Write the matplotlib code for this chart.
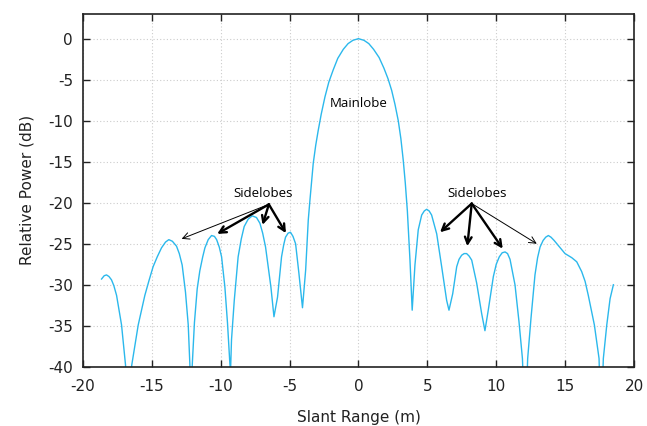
import numpy as np
import matplotlib.pyplot as plt

plt.rcParams['axes.unicode_minus'] = False

# point spread response along slant range (m) and relative power (dB)
slant_range = [-18.64, -18.45, -18.28, -18.1, -17.92, -17.75, -17.55, -17.19, -16.9, -16.71,
               -16.45, -15.98, -15.5, -15.2, -14.9, -14.6, -14.29, -14.0, -13.76, -13.5,
               -13.2, -13.0, -12.79, -12.55, -12.35, -12.23, -12.16, -12.06, -11.9, -11.7,
               -11.51, -11.3, -11.14, -10.9, -10.66, -10.45, -10.29, -10.1, -9.93, -9.69,
               -9.5, -9.33, -9.28, -9.21, -9.01, -8.73, -8.5, -8.29, -8.0, -7.71, -7.4,
               -7.15, -6.95, -6.74, -6.35, -6.13, -5.87, -5.58, -5.42, -5.29, -5.1, -4.93,
               -4.75, -4.56, -4.32, -4.06, -3.83, -3.64, -3.52, -3.4, -3.28, -3.1, -2.92,
               -2.7, -2.43, -2.15, -1.83, -1.5, -1.1, -0.75, -0.4, 0.0, 0.4, 0.75, 1.1,
               1.5, 1.85, 2.15, 2.41, 2.65, 2.89, 3.08, 3.25, 3.4, 3.55, 3.74, 3.9, 4.1,
               4.34, 4.59, 4.78, 4.95, 5.13, 5.31, 5.68, 6.04, 6.4, 6.57, 6.84, 7.13,
               7.3, 7.49, 7.67, 7.85, 8.03, 8.22, 8.58, 8.94, 9.18, 9.42, 9.79, 10.0,
               10.22, 10.43, 10.64, 10.82, 11.0, 11.36, 11.65, 11.9, 12.1, 12.28, 12.52,
               12.81, 13.0, 13.18, 13.4, 13.59, 13.78, 13.97, 14.2, 14.5, 14.99, 15.48,
               15.84, 16.2, 16.45, 16.68, 17.12, 17.46, 17.6, 17.77, 18.02, 18.26, 18.5]
power_db = [-29.3, -28.9, -28.8, -29.0, -29.4, -30.1, -31.3, -34.9, -39.8, -48.0,
            -39.8, -34.9, -31.3, -29.5, -27.8, -26.6, -25.5, -24.8, -24.5, -24.7,
            -25.3, -26.2, -27.6, -30.9, -34.9, -39.8, -48.0, -39.8, -34.6, -30.5,
            -28.3, -26.6, -25.5, -24.5, -24.0, -24.1, -24.5, -25.4, -26.6, -30.3,
            -34.7, -39.6, -40.5, -36.7, -31.9, -26.6, -24.4, -22.9, -22.0, -21.6, -21.8,
            -22.5, -23.7, -25.4, -30.3, -33.9, -31.5, -26.6, -25.1, -24.2, -23.7, -23.6,
            -24.1, -25.0, -28.6, -32.8, -28.2, -22.1, -19.7, -17.5, -15.2, -13.0, -11.2,
            -9.2, -7.1, -5.3, -3.8, -2.4, -1.3, -0.6, -0.2, 0.0, -0.2, -0.6, -1.3,
            -2.3, -3.6, -4.9, -6.3, -8.0, -10.0, -12.2, -14.8, -17.6, -21.0, -27.0, -33.1, -27.6,
            -23.3, -21.5, -21.0, -20.8, -21.0, -21.5, -23.8, -27.8, -31.9, -33.1, -31.1, -27.8,
            -26.9, -26.4, -26.2, -26.2, -26.5, -27.0, -29.8, -33.5, -35.6, -33.1, -29.0, -27.5,
            -26.6, -26.1, -26.0, -26.2, -26.9, -30.0, -34.5, -39.0, -48.0, -39.0, -34.1,
            -28.8, -26.7, -25.4, -24.6, -24.2, -24.0, -24.2, -24.6, -25.2, -26.2, -26.7,
            -27.2, -28.4, -29.6, -31.3, -34.9, -39.0, -48.0, -39.0, -34.9, -31.7, -30.0]

# label positions and arrow targets (x, y in data units)
left_label = (-6.9, -18.9)
left_origin = (-6.5, -20.2)
left_tips = [(-12.83, -24.4), (-10.25, -23.8), (-6.96, -22.7), (-5.26, -23.7)]
right_label = (8.6, -18.9)
right_origin = (8.22, -20.1)
right_tips = [(5.92, -23.6), (7.9, -25.3), (10.47, -25.6), (12.94, -25.0)]
thin_arrow = [True, False, False, False]
thin_arrow_right = [False, False, False, True]


def draw_arrows(ax, origin, tips, thin):
    for tip, t in zip(tips, thin):
        if t:
            props = dict(arrowstyle='->', lw=0.7, color='black',
                         shrinkA=0, shrinkB=0, mutation_scale=12)
        else:
            props = dict(arrowstyle='->', lw=1.7, color='black',
                         shrinkA=0, shrinkB=0, mutation_scale=12)
        ax.annotate('', xy=tip, xytext=origin, arrowprops=props)


def main():
    fig = plt.figure(figsize=(6.47, 4.26), dpi=100)
    ax = fig.add_axes([0.128, 0.139, 0.852, 0.828])

    ax.plot(slant_range, power_db, color='#2bb8ec', lw=1.0)

    ax.set_xlim(-20, 20)
    ax.set_ylim(-40, 3)
    ax.set_xticks(np.arange(-20, 21, 5))
    ax.set_yticks(np.arange(-40, 1, 5))
    ax.grid(True, ls=(0, (1, 2)), color='#cccccc', lw=0.8)
    ax.tick_params(direction='in', length=5, width=1, top=True, right=True,
                   labelsize=11, colors='#222222')
    ax.tick_params(axis='x', pad=9)
    ax.tick_params(axis='y', pad=7)
    for sp in ax.spines.values():
        sp.set_linewidth(1.2)
        sp.set_color('#222222')

    ax.set_xlabel('Slant Range (m)', fontsize=11, labelpad=11, color='#222222')
    ax.set_ylabel('Relative Power (dB)', fontsize=11, labelpad=10, color='#222222')

    ax.text(0.0, -7.9, 'Mainlobe', ha='center', va='center',
            fontsize=9.5, family='Open Sans')
    ax.text(*left_label, 'Sidelobes', ha='center', va='center',
            fontsize=9.5, family='Open Sans')
    ax.text(*right_label, 'Sidelobes', ha='center', va='center',
            fontsize=9.5, family='Open Sans')
    draw_arrows(ax, left_origin, left_tips, thin_arrow)
    draw_arrows(ax, right_origin, right_tips, thin_arrow_right)

    fig.savefig('out.png', dpi=100)


if __name__ == '__main__':
    main()
